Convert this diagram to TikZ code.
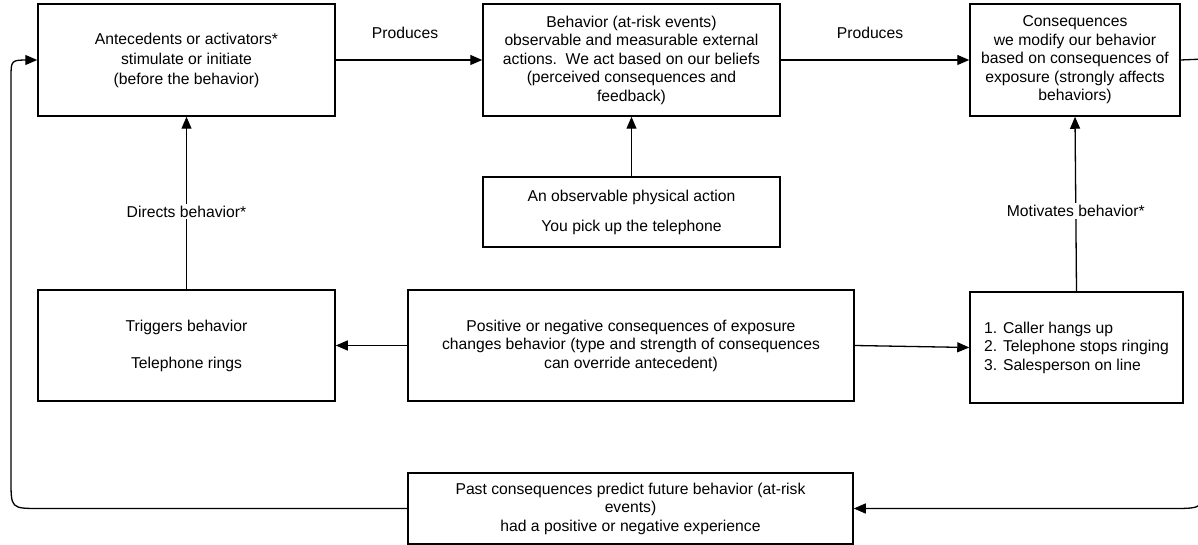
\documentclass[tikz,border=0pt]{standalone}
\usepackage{fontspec}
\setmainfont{Liberation Sans}
\usetikzlibrary{arrows.meta}
\begin{document}
\begin{tikzpicture}[x=1pt,y=-1pt,
  box/.style={draw, line width=1.5pt, align=center, inner sep=2pt, font=\fontsize{15.7}{18.5}\selectfont},
  lbl/.style={font=\fontsize{15.7}{18.5}\selectfont, inner sep=2pt},
  conn/.style={line width=1.3pt},
  arr/.style={conn, -{Triangle[length=12pt,width=10pt]}},
  ]
\useasboundingbox (0,0) rectangle (1198,545);
\node[box, minimum width=297pt, minimum height=112pt] (A) at (186.5,60)
  {Antecedents or activators*\\[1.5pt]stimulate or initiate\\[1.5pt](before the behavior)};
\node[box, minimum width=297pt, minimum height=112pt] (B) at (631.5,60)
  {Behavior (at-risk events)\\observable and measurable external\\actions.\ \ We act based on our beliefs\\(perceived consequences and\\feedback)};
\node[box, minimum width=210pt, minimum height=112pt] (C) at (1075,60)
  {Consequences\\we modify our behavior\\based on consequences of\\exposure (strongly affects\\behaviors)};
\node[box, minimum width=297pt, minimum height=70pt] (B2) at (631.5,212)
  {An observable physical action\\[11.5pt]You pick up the telephone};
\node[box, minimum width=297pt, minimum height=111pt] (E) at (186.5,345.5)
  {Triggers behavior\\[18.5pt]Telephone rings};
\node[box, minimum width=446pt, minimum height=111pt] (F) at (631,345.5)
  {Positive or negative consequences of exposure\\changes behavior (type and strength of consequences\\can override antecedent)};
\node[box, align=left, minimum width=213pt, minimum height=111pt] (G) at (1076.5,347.5)
  {1. Caller hangs up\\2. Telephone stops ringing\\3. Salesperson on line};
\node[box, minimum width=445pt, minimum height=71pt] (D) at (630.5,508.5)
  {Past consequences predict future behavior (at-risk\\events)\\had a positive or negative experience};

\draw[arr] (A.east) -- (B.west);
\draw[arr] (B.east) -- (C.west);
\node[lbl] (p1) at (405,33) {Produces};
\node[lbl] (p2) at (870,33) {Produces};
\draw[arr] (B2.north) -- (B.south);
\draw[arr] (E.north) -- node[lbl, fill=white, pos=0.45] (dl) {Directs behavior*} (A.south);
\draw[arr] (G.north) -- node[lbl, fill=white, pos=0.46] (ml) {Motivates behavior*} (C.south);
\draw[arr] (F.west) -- (E.east);
\draw[arr] (F.east) -- (G.west);

\coordinate (rt) at (1204,59);
\coordinate (rbu) at (1204,478);
\coordinate (rb) at (1204,508.5);
\coordinate (rbl) at (1172,508.5);
\draw[arr] (C.east) -- (rt) -- (rbu) .. controls (rb) .. (rbl) -- (D.east);

\coordinate (lbr) at (40,508.5);
\coordinate (lb) at (11,508.5);
\coordinate (lbu) at (11,480);
\coordinate (ltd) at (11,78);
\coordinate (lt) at (11,60);
\coordinate (ltr) at (29,60);
\draw[arr] (D.west) -- (lbr) .. controls (lb) .. (lbu) -- (ltd) .. controls (lt) .. (ltr) -- (A.west);
\end{tikzpicture}
\end{document}
